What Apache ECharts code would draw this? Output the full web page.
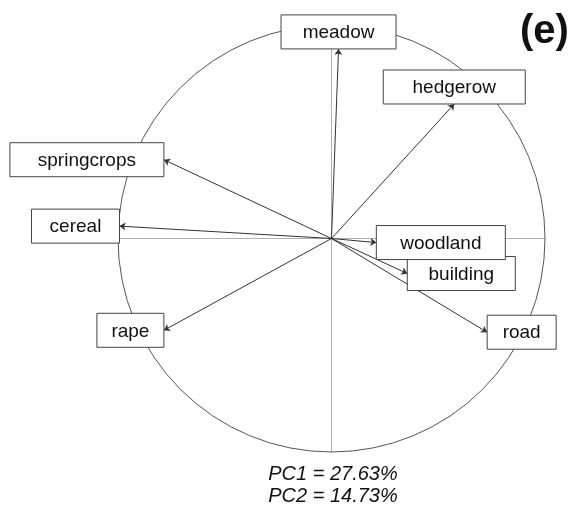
<!DOCTYPE html>
<html>
<head>
<meta charset="utf-8">
<script src="https://cdn.jsdelivr.net/npm/echarts@6/dist/echarts.min.js"></script>
<style>
  html, body { margin: 0; padding: 0; background: #fff; }
  #main { width: 573px; height: 514px; }
</style>
</head>
<body>
<div id="main"></div>
<script>
// PCA loadings (correlation circle)
const varNames = ["meadow", "hedgerow", "springcrops", "cereal", "building", "woodland", "road", "rape"];
const pc1Loadings = [0.033, 0.575, -0.785, -0.993, 0.355, 0.21, 0.729, -0.785];
const pc2Loadings = [0.888, 0.63, 0.369, 0.058, -0.164, -0.019, -0.439, -0.43];
const axisTexts = ["PC1 = 27.63%", "PC2 = 14.73%"];
const panelTag = "(e)";

// label box widths (layout only)
const boxWidths = [115, 142, 154, 88, 108, 129, 69, 67];
const boxHeight = 34;
const FONT = '"Liberation Sans", Arial, Helvetica, sans-serif';

let chart = echarts.init(document.getElementById("main"));

let arrowData = varNames.map(function (n, i) {
    return { name: n, coords: [[0, 0], [pc1Loadings[i], pc2Loadings[i]]] };
});
let labelData = varNames.map(function (n, i) {
    return [pc1Loadings[i], pc2Loadings[i], i];
});

let hiddenAxis = {
    type: "value",
    min: -1,
    max: 1,
    axisLine: { show: true, onZero: true, lineStyle: { color: "#b0b0b0", width: 1 } },
    axisTick: { show: false },
    axisLabel: { show: false },
    splitLine: { show: false }
};

let option = {
    animation: false,
    grid: { left: 118, top: 25, width: 427, height: 427 },
    xAxis: hiddenAxis,
    yAxis: Object.assign({}, hiddenAxis),
    series: [
        {
            // unit circle
            type: "custom",
            silent: true,
            z: 1,
            data: [[0, 0]],
            renderItem: function (params, api) {
                let c = api.coord([0, 0]);
                let s = api.size([1, 1]);
                return {
                    type: "circle",
                    shape: { cx: c[0], cy: c[1], r: s[0] },
                    style: { fill: "none", stroke: "#555", lineWidth: 1 }
                };
            }
        },
        {
            type: "lines",
            coordinateSystem: "cartesian2d",
            silent: true,
            z: 3,
            symbol: ["none", "arrow"],
            symbolSize: [0, 6],
            lineStyle: { color: "#333", width: 1, opacity: 1 },
            data: arrowData
        },
        {
            // boxed labels at arrow tips
            type: "custom",
            silent: true,
            z: 5,
            data: labelData,
            renderItem: function (params, api) {
                let x = api.value(0), y = api.value(1), i = api.value(2);
                let p = api.coord([x, y]);
                let w = boxWidths[i], h = boxHeight;
                let bx, by;
                if (Math.abs(y) > Math.abs(x)) {
                    bx = p[0] - w / 2;
                    by = y > 0 ? p[1] - h : p[1];
                } else {
                    by = p[1] - h / 2;
                    bx = x > 0 ? p[0] : p[0] - w;
                }
                return {
                    type: "group",
                    children: [
                        {
                            type: "rect",
                            shape: { x: bx, y: by, width: w, height: h },
                            style: { fill: "#fff", stroke: "#444", lineWidth: 1 }
                        },
                        {
                            type: "text",
                            style: {
                                text: varNames[i],
                                x: bx + w / 2,
                                y: by + h / 2 + 1,
                                align: "center",
                                verticalAlign: "middle",
                                font: "19px " + FONT,
                                fill: "#111"
                            }
                        }
                    ]
                };
            }
        }
    ],
    graphic: [
        {
            type: "text",
            left: 520,
            top: 12,
            style: { text: panelTag, font: "bold 40px " + FONT, fill: "#111" }
        },
        {
            type: "text",
            x: 333,
            y: 474,
            style: { text: axisTexts[0], font: "italic 20px " + FONT, fill: "#111", align: "center", verticalAlign: "middle" }
        },
        {
            type: "text",
            x: 333,
            y: 496,
            style: { text: axisTexts[1], font: "italic 20px " + FONT, fill: "#111", align: "center", verticalAlign: "middle" }
        }
    ]
};

chart.setOption(option);
</script>
</body>
</html>
